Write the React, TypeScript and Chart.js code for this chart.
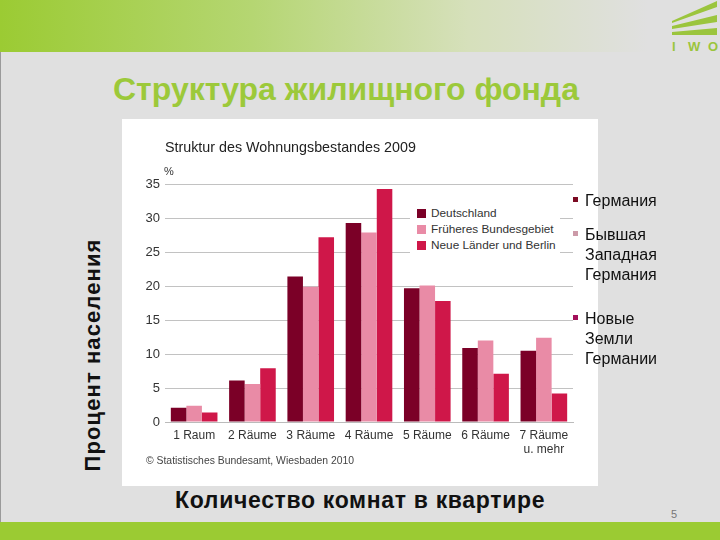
import React, { useEffect, useRef } from 'react';
import Chart from 'chart.js/auto';

const rooms = ['1 Raum', '2 Räume', '3 Räume', '4 Räume', '5 Räume', '6 Räume', ['7 Räume', 'u. mehr']];
const deutschland = [2.1, 6.1, 21.4, 29.3, 19.7, 10.9, 10.5];
const frueheresGebiet = [2.4, 5.6, 19.9, 27.9, 20.1, 12.0, 12.4];
const neueLaender = [1.4, 7.9, 27.2, 34.3, 17.8, 7.1, 4.2];
const seriesNames = ['Deutschland', 'Früheres Bundesgebiet', 'Neue Länder und Berlin'];
const seriesColors = ['#7b0027', '#e98ba6', '#cf1749'];
const sideLabels = [
    { lines: ['Германия'], top: 191, color: '#7b0a22' },
    { lines: ['Бывшая', 'Западная', 'Германия'], top: 225, color: '#cc9aa8' },
    { lines: ['Новые', 'Земли', 'Германии'], top: 309, color: '#a3105a' },
];
const logoLetters = [{ c: 'I', x: 672 }, { c: 'W', x: 688 }, { c: 'O', x: 708 }];

const sans = '"Liberation Sans", Arial, sans-serif';
const green = '#9bcb33';

const percentSign = {
    id: 'percentSign',
    afterDraw(chart: Chart) {
        const { ctx, chartArea } = chart;
        ctx.save();
        ctx.font = `11px ${sans}`;
        ctx.fillStyle = '#333';
        ctx.textAlign = 'left';
        ctx.fillText('%', chartArea.left - 1, chartArea.top - 9);
        ctx.restore();
    },
};

const App: React.FC = () => {
    const canvasRef = useRef<HTMLCanvasElement | null>(null);

    useEffect(() => {
        if (!canvasRef.current) return;
        const chart = new Chart(canvasRef.current, {
            type: 'bar',
            data: {
                labels: rooms,
                datasets: [deutschland, frueheresGebiet, neueLaender].map((data, i) => ({
                    label: seriesNames[i],
                    data,
                    backgroundColor: seriesColors[i],
                    categoryPercentage: 0.8,
                    barPercentage: 1,
                })),
            },
            options: {
                animation: false,
                responsive: false,
                layout: { padding: { top: 0, right: 25, bottom: 0, left: 0 } },
                plugins: {
                    legend: { display: false },
                    tooltip: { enabled: false },
                    title: {
                        display: true,
                        text: 'Struktur des Wohnungsbestandes 2009',
                        align: 'start',
                        fullSize: false,
                        color: '#222',
                        font: { family: sans, size: 14.3, weight: 'normal' },
                        padding: { top: 20, bottom: 28 },
                    },
                },
                scales: {
                    x: {
                        grid: { display: false },
                        border: { color: '#bbb' },
                        ticks: {
                            color: '#333',
                            font: { family: sans, size: 12 },
                            maxRotation: 0,
                            autoSkip: false,
                            padding: -2,
                        },
                        afterFit: (scale: any) => { scale.height = 64; },
                    },
                    y: {
                        min: 0,
                        max: 35,
                        grid: { color: '#c2c2c2', drawTicks: false },
                        border: { display: false },
                        ticks: {
                            stepSize: 5,
                            color: '#333',
                            font: { family: sans, size: 13 },
                            padding: 5,
                        },
                        afterFit: (scale: any) => { scale.width = 43; },
                    },
                },
            },
            plugins: [percentSign],
        });
        return () => chart.destroy();
    }, []);

    const abs = (left: number, top: number): React.CSSProperties => ({ position: 'absolute', left, top });

    return (
        <div style={{ position: 'absolute', left: 0, top: 0, width: 720, height: 540, overflow: 'hidden', background: '#e0e0e0', fontFamily: sans }}>
            <div style={{ ...abs(0, 0), width: 720, height: 52, background: `linear-gradient(90deg, ${green} 0%, #b5d672 35%, #d6e0bb 65%, #e0e0e0 90%)` }} />
            <div style={{ ...abs(0, 522), width: 720, height: 18, background: green }} />
            <div style={{ ...abs(0, 52), width: 1, height: 470, background: '#9a9a9a' }} />

            <svg width={60} height={60} style={abs(660, 0)}>
                <polygon points="12,21 57,1 57,7 12,23" fill="#9bc53d" />
                <polygon points="12,26 57,15 57,22 12,29" fill="#9bc53d" />
                <polygon points="12,32 57,28 57,35 12,35" fill="#9bc53d" />
            </svg>
            {logoLetters.map(l => (
                <div key={l.c} style={{ ...abs(l.x, 39), fontSize: 13, fontWeight: 'bold', color: '#9bc53d' }}>{l.c}</div>
            ))}

            <div style={{ ...abs(113, 70), fontSize: 32, lineHeight: '38px', fontWeight: 'bold', color: '#9cc93a', whiteSpace: 'nowrap' }}>
                Структура жилищного фонда
            </div>

            <div style={{ ...abs(122, 119), width: 476, height: 367, background: '#fff' }}>
                <canvas ref={canvasRef} width={476} height={367} style={{ display: 'block' }} />
                <div style={{ ...abs(288, 86), width: 150, height: 50, background: '#fff', padding: '0 0 0 7px', boxSizing: 'border-box' }}>
                    {seriesNames.map((name, i) => (
                        <div key={name} style={{ display: 'flex', alignItems: 'center', height: 16, fontSize: 11.8, color: '#333', whiteSpace: 'nowrap' }}>
                            <span style={{ width: 9, height: 9, background: seriesColors[i], marginRight: 5 }} />
                            {name}
                        </div>
                    ))}
                </div>
                <div style={{ ...abs(24, 336), fontSize: 10.4, color: '#444', whiteSpace: 'nowrap' }}>© Statistisches Bundesamt, Wiesbaden 2010</div>
            </div>

            {sideLabels.map(item => (
                <div key={item.lines.join()} style={abs(573, item.top)}>
                    <span style={{ ...abs(0, 6), width: 5, height: 5, background: item.color }} />
                    {item.lines.map((line, i) => (
                        <div key={line} style={{ ...abs(12, i * 20), fontSize: 16, lineHeight: '20px', color: '#111', whiteSpace: 'nowrap' }}>{line}</div>
                    ))}
                </div>
            ))}

            <div style={{ ...abs(93, 355), transform: 'translate(-50%, -50%) rotate(-90deg)', fontSize: 22, fontWeight: 'bold', letterSpacing: 1.1, color: '#111', whiteSpace: 'nowrap' }}>
                Процент населения
            </div>
            <div style={{ ...abs(175, 486), fontSize: 23, lineHeight: '28px', fontWeight: 'bold', letterSpacing: 0.67, color: '#111', whiteSpace: 'nowrap' }}>
                Количество комнат в квартире
            </div>
            <div style={{ ...abs(671, 508), fontSize: 11, color: '#777' }}>5</div>
        </div>
    );
};

export default App;
